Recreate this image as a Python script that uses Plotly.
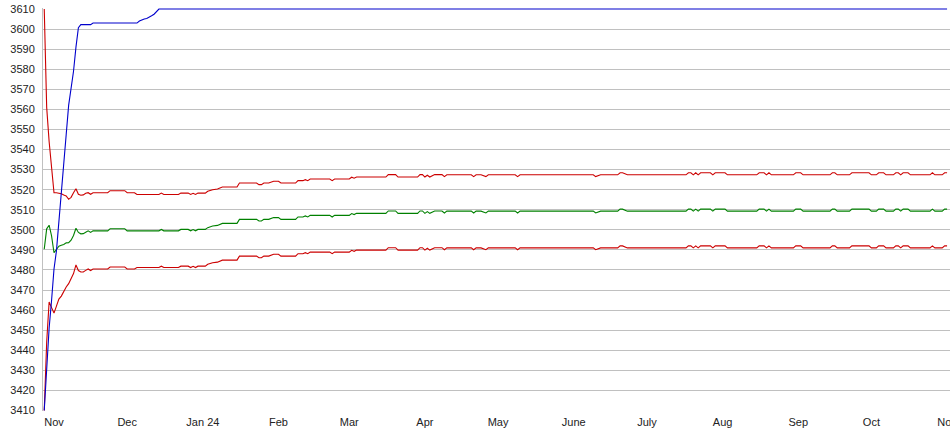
import pandas as pd
import plotly.graph_objects as go

BASE_DATE = "2023-11-01"

# ---- data (day offsets from BASE_DATE) ----
band_days = [-4, -3, -2, -1, 0, 1, 2, 3, 4, 5, 6, 7, 8, 9, 10, 11, 12, 13, 14, 15, 16,
             22, 23, 29, 30, 33, 34, 43, 44, 45, 51, 52, 55, 56, 57, 58, 59, 62, 63, 65, 67, 69,
             75, 76, 83, 84, 85, 86, 88, 90, 92, 93, 99, 100, 102, 103, 104, 105, 113, 114, 115,
             121, 122, 123, 124, 136, 137, 140, 141, 149, 150, 151, 152, 153, 154, 156, 159, 160,
             161, 171, 172, 173, 175, 177, 178, 189, 190, 191, 221, 222, 224, 231, 232, 233, 235,
             259, 260, 261, 262, 263, 264, 265, 269, 270, 271, 275, 276, 288, 289, 291, 292, 293,
             294, 303, 304, 306, 307, 318, 319, 320, 321, 326, 327, 334, 335, 337, 338, 340, 341,
             344, 345, 346, 347, 348, 350, 351, 359, 360, 361, 364, 365, 366]

upper = [3610, 3561, 3544, 3529, 3518.5, 3518.5, 3518.4, 3518, 3517.3, 3516.9, 3515.2, 3516.2,
         3518.5, 3520.5, 3517.7, 3517.2, 3517.4, 3518.2, 3518.5, 3517.7, 3518.5,
         3518.5, 3519.5, 3519.5, 3518.5, 3518.5, 3517.6, 3517.6, 3518.3, 3517.6, 3517.6, 3518.3,
         3518.3, 3517.6, 3518.2, 3517.6, 3518.3, 3518.3, 3519.2, 3520, 3520.3, 3521.3,
         3521.3, 3523.3, 3523.3, 3522.5, 3522.5, 3523.3, 3523.3, 3524.2, 3524.2, 3523.3, 3523.3,
         3524.5, 3524.5, 3525, 3524.5, 3525.3, 3525.3, 3524.5, 3525.3,
         3525.3, 3526.2, 3525.7, 3526.3, 3526.3, 3527.5, 3527.5, 3526.3, 3526.3, 3527.5, 3527.5,
         3526.3, 3527.2, 3526.3, 3527.5, 3527.5, 3526.5,
         3527.4, 3527.4, 3526.5, 3527.4, 3527.4, 3526.5, 3527.4, 3527.4, 3526.5, 3527.4, 3527.4,
         3526.5, 3527.4, 3527.4, 3528.4, 3528.4, 3527.4,
         3527.4, 3528.4, 3528.4, 3527.4, 3528.4, 3527.4, 3528.4, 3528.4, 3527.4, 3528.4, 3528.4,
         3527.4, 3527.4, 3528.4, 3528.4, 3527.4, 3528.4,
         3527.4, 3527.4, 3528.4, 3528.4, 3527.4, 3527.4, 3528.4, 3528.4, 3527.4, 3527.4, 3528.4,
         3528.4, 3527.4, 3527.4, 3528.4, 3528.4, 3527.4,
         3527.4, 3528.4, 3528.4, 3527.4, 3528.4, 3528.4, 3527.4, 3527.4, 3528.4, 3527.4, 3527.4,
         3528.4, 3528.4]

middle = [3490.4, 3500.5, 3502.3, 3497, 3488.6, 3490.2, 3491.8, 3492.3, 3492.7, 3493.5, 3493.6,
          3494.8, 3497.2, 3500.8, 3498.7, 3498, 3498.1, 3498.8, 3499.5, 3498.7, 3499.5,
          3499.5, 3500.5, 3500.5, 3499.5, 3499.5, 3499.5, 3499.5, 3500.2, 3499.5, 3499.5, 3500.2,
          3500.2, 3499.5, 3500.1, 3499.5, 3500.2, 3500.2, 3501.1, 3501.9, 3502.2, 3503.2,
          3503.2, 3505.2, 3505.2, 3504.4, 3504.4, 3505.2, 3505.2, 3506.1, 3506.1, 3505.2, 3505.2,
          3506.4, 3506.4, 3506.9, 3506.4, 3507.2, 3507.2, 3506.4, 3507.2,
          3507.2, 3508.1, 3507.6, 3508.2, 3508.2, 3509.4, 3509.4, 3508.2, 3508.2, 3509.4, 3509.4,
          3508.2, 3509.1, 3508.2, 3509.4, 3509.4, 3508.4,
          3509.3, 3509.3, 3508.4, 3509.3, 3509.3, 3508.4, 3509.3, 3509.3, 3508.4, 3509.3, 3509.3,
          3508.4, 3509.3, 3509.3, 3510.3, 3510.3, 3509.3,
          3509.3, 3510.3, 3510.3, 3509.3, 3510.3, 3509.3, 3510.3, 3510.3, 3509.3, 3510.3, 3510.3,
          3509.3, 3509.3, 3510.3, 3510.3, 3509.3, 3510.3,
          3509.3, 3509.3, 3510.3, 3510.3, 3509.3, 3509.3, 3510.3, 3510.3, 3509.3, 3509.3, 3510.3,
          3510.3, 3509.3, 3509.3, 3510.3, 3510.3, 3509.3,
          3509.3, 3510.3, 3510.3, 3509.3, 3510.3, 3510.3, 3509.3, 3509.3, 3510.3, 3509.3, 3509.3,
          3510.3, 3510.3]

lower = [3410, 3444, 3464, 3461, 3458.5, 3462, 3465.5, 3467, 3469.5, 3471.5, 3473.2, 3475.5,
         3478.2, 3482.5, 3479.7, 3479, 3479, 3479.8, 3480.5, 3479.7, 3480.5,
         3480.5, 3481.5, 3481.5, 3480.5, 3480.5, 3481.2, 3481.2, 3481.9, 3481.2, 3481.2, 3481.9,
         3481.9, 3481.2, 3481.8, 3481.2, 3481.9, 3481.9, 3482.8, 3483.6, 3483.9, 3484.9,
         3484.9, 3486.9, 3486.9, 3486.1, 3486.1, 3486.9, 3486.9, 3487.8, 3487.8, 3486.9, 3486.9,
         3488.1, 3488.1, 3488.6, 3488.1, 3488.9, 3488.9, 3488.1, 3488.9,
         3488.9, 3489.8, 3489.3, 3489.9, 3489.9, 3491.1, 3491.1, 3489.9, 3489.9, 3491.1, 3491.1,
         3489.9, 3490.8, 3489.9, 3491.1, 3491.1, 3490.1,
         3491, 3491, 3490.1, 3491, 3491, 3490.1, 3491, 3491, 3490.1, 3491, 3491,
         3490.1, 3491, 3491, 3492, 3492, 3491,
         3491, 3492, 3492, 3491, 3492, 3491, 3492, 3492, 3491, 3492, 3492,
         3491, 3491, 3492, 3492, 3491, 3492,
         3491, 3491, 3492, 3492, 3491, 3491, 3492, 3492, 3491, 3491, 3492,
         3492, 3491, 3491, 3492, 3492, 3491,
         3491, 3492, 3492, 3491, 3492, 3492, 3491, 3491, 3492, 3491, 3491,
         3492, 3492]

blue_days = [-4, -3, -2, -1, 0, 1, 2, 3, 4, 5, 6, 7, 8, 9, 10, 11, 15, 16, 34, 35, 36, 37, 38,
             39, 40, 41, 42, 43, 366]
blue_vals = [3410, 3430.5, 3451, 3464.8, 3480.5, 3489.5, 3503, 3518, 3532.7, 3547.5, 3562, 3571,
             3579, 3591, 3600.7, 3602.2, 3602.2, 3603, 3603, 3604, 3604.6, 3605, 3605.3, 3605.8,
             3606.6, 3607.4, 3608.6, 3610, 3610]

tick_months = ["2023-11-01", "2023-12-01", "2024-01-01", "2024-02-01", "2024-03-01",
               "2024-04-01", "2024-05-01", "2024-06-01", "2024-07-01", "2024-08-01",
               "2024-09-01", "2024-10-01", "2024-11-01"]
tick_labels = ["Nov", "Dec", "Jan 24", "Feb", "Mar", "Apr", "May", "June", "July", "Aug",
               "Sep", "Oct", "Nov"]

# ---- build ----
base = pd.Timestamp(BASE_DATE)
band_x = base + pd.to_timedelta(band_days, unit="D")
blue_x = base + pd.to_timedelta(blue_days, unit="D")

RED = "#cc0000"
GREEN = "#008000"
BLUE = "#0000cc"
GRID = "#c0c0c0"

fig = go.Figure()
fig.add_trace(go.Scatter(x=band_x, y=upper, mode="lines", line=dict(color=RED, width=1.1),
                         showlegend=False, hoverinfo="skip"))
fig.add_trace(go.Scatter(x=band_x, y=lower, mode="lines", line=dict(color=RED, width=1.1),
                         showlegend=False, hoverinfo="skip"))
fig.add_trace(go.Scatter(x=band_x, y=middle, mode="lines", line=dict(color=GREEN, width=1.1),
                         showlegend=False, hoverinfo="skip"))
fig.add_trace(go.Scatter(x=blue_x, y=blue_vals, mode="lines", line=dict(color=BLUE, width=1.1),
                         showlegend=False, hoverinfo="skip"))

x_start = base + pd.Timedelta(days=-4.508)
x_end = base + pd.Timedelta(days=367.2)

font = dict(family="Arial, 'Liberation Sans', sans-serif", size=11, color="#222222")

fig.update_layout(
    width=950, height=435,
    margin=dict(l=43, r=0, t=8, b=24, pad=0),
    paper_bgcolor="white", plot_bgcolor="white",
    font=font,
    xaxis=dict(
        type="date", range=[x_start, x_end],
        tickmode="array", tickvals=tick_months, ticktext=tick_labels,
        showgrid=False, zeroline=False, showline=False, ticks="",
        ticklabelstandoff=3, ticklabeloverflow="allow", automargin=False, tickfont=font,
    ),
    yaxis=dict(
        range=[3409.75, 3610.5], tick0=3410, dtick=10, tickmode="linear",
        showgrid=True, gridcolor=GRID, gridwidth=1, zeroline=False,
        showline=True, linecolor=GRID, linewidth=1, ticks="",
        ticklabelstandoff=5, automargin=False, tickfont=font,
    ),
)

fig.write_html(
    "out.html",
    config={"displayModeBar": False},
    post_script="document.body.style.margin='0';document.body.style.overflow='hidden';",
)
